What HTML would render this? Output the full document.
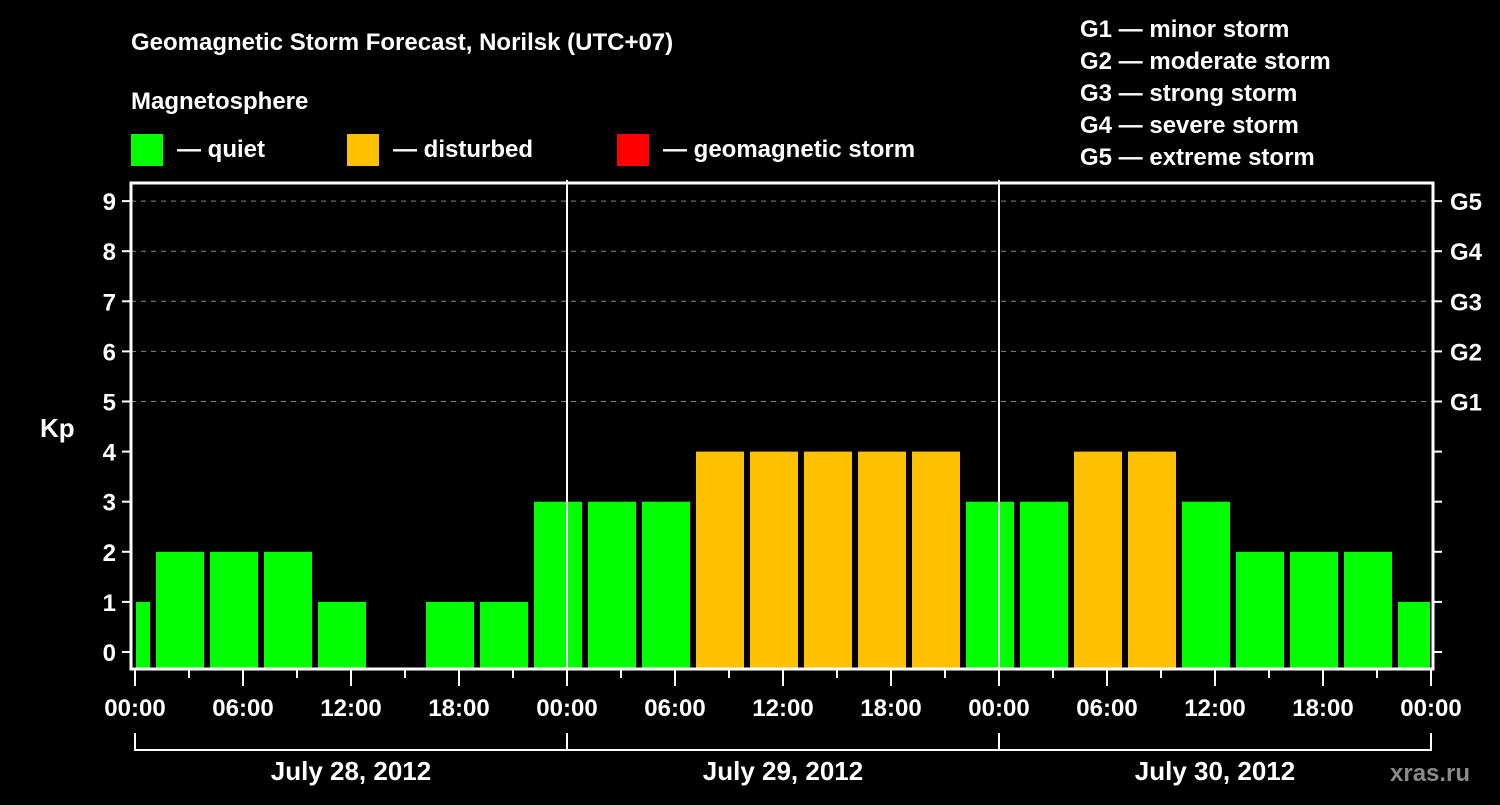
<!DOCTYPE html>
<html><head><meta charset="utf-8"><style>
body{margin:0;background:#000;width:1500px;height:800px;overflow:hidden}
svg text{font-family:"Liberation Sans",Arial,sans-serif;font-weight:bold;fill:#fff}
</style></head><body>
<svg id="chart" width="1500" height="800" xmlns="http://www.w3.org/2000/svg">
<rect width="1500" height="800" fill="#000"/>
<text x="131" y="50" font-size="24">Geomagnetic Storm Forecast, Norilsk (UTC+07)</text>
<text x="131" y="109" font-size="24">Magnetosphere</text>
<g><rect x="131" y="134" width="32" height="32" fill="#00ff00"/><text x="177" y="157" font-size="24">— quiet</text></g>
<g><rect x="347" y="134" width="32" height="32" fill="#ffc000"/><text x="393" y="157" font-size="24">— disturbed</text></g>
<g><rect x="617" y="134" width="32" height="32" fill="#ff0000"/><text x="663" y="157" font-size="24">— geomagnetic storm</text></g>
<g font-size="24">
<text x="1080" y="37">G1 — minor storm</text>
<text x="1080" y="69">G2 — moderate storm</text>
<text x="1080" y="101">G3 — strong storm</text>
<text x="1080" y="133">G4 — severe storm</text>
<text x="1080" y="165">G5 — extreme storm</text>
</g>
<text x="40" y="437" font-size="26">Kp</text>
<g id="grid"></g><g id="bars"></g><g id="axes"></g>
<text x="1390" y="781" font-size="24" fill="#888" style="fill:#8a8a8a">xras.ru</text>
</svg>
<script>
const startHours = [-2,1,4,7,10,13,16,19,22,25,28,31,34,37,40,43,46,49,52,55,58,61,64,67,70];
const kpValues = [1,2,2,2,1,0,1,1,3,3,3,4,4,4,4,4,3,3,4,4,3,2,2,2,1];
const dayLabels = ["July 28, 2012","July 29, 2012","July 30, 2012"];
const timeLabels = ["00:00","06:00","12:00","18:00"];
const gLabels = ["G1","G2","G3","G4","G5"];
const NS="http://www.w3.org/2000/svg";
const L=131,R=1433,T=183,B=669;
const x=h=>135+18*h;
const y=k=>652-50.1*k;
function mk(tag,attrs,parent){const e=document.createElementNS(NS,tag);for(const k in attrs)e.setAttribute(k,attrs[k]);parent.appendChild(e);return e;}
const grid=document.getElementById('grid'),bars=document.getElementById('bars'),axes=document.getElementById('axes');
for(let k=5;k<=9;k++){const l=mk('line',{x1:L,x2:R,y1:y(k),y2:y(k),stroke:'#888','stroke-dasharray':'5,5'},grid);

}
startHours.forEach((h,i)=>{const v=kpValues[i];if(v<=0)return;
const x0=Math.max(x(h)+3,L+5),x1=Math.min(x(h+3)-3,R-3);
const c=v>=5?'#ff0000':(v>=4?'#ffc000':'#00ff00');
const r=mk('rect',{x:x0,y:y(v),width:x1-x0,height:B-y(v),fill:c},bars);

});
for(let d=1;d<3;d++){const l=mk('line',{x1:x(24*d),x2:x(24*d),y1:T-3,y2:B,stroke:'#fff','stroke-width':2},axes);

}
const fr=mk('rect',{x:L,y:T,width:R-L,height:B-T,fill:'none',stroke:'#fff','stroke-width':3},axes);


for(let k=0;k<=9;k++){
mk('line',{x1:122,x2:L,y1:y(k),y2:y(k),stroke:'#fff','stroke-width':2},axes);
mk('line',{x1:R,x2:1442,y1:y(k),y2:y(k),stroke:'#fff','stroke-width':2},axes);
const t=mk('text',{x:116,y:y(k)+9,'font-size':24,'text-anchor':'end'},axes);t.textContent=k;

}
gLabels.forEach((g,i)=>{const t=mk('text',{x:1450,y:y(5+i)+9,'font-size':24},axes);t.textContent=g;

});
for(let h=0;h<=72;h+=3){const major=h%6===0;
mk('line',{x1:x(h),x2:x(h),y1:B,y2:major?686:678,stroke:'#fff','stroke-width':2},axes);
if(major){const t=mk('text',{x:x(h),y:716,'font-size':24,'text-anchor':'middle'},axes);t.textContent=timeLabels[(h/6)%4];

}}
mk('path',{d:`M${x(0)},733V750H${x(72)}V733M${x(24)},733V750M${x(48)},733V750`,stroke:'#fff','stroke-width':2,fill:'none'},axes);
dayLabels.forEach((d,i)=>{const t=mk('text',{x:x(24*i+12),y:780,'font-size':26,'text-anchor':'middle'},axes);t.textContent=d;

});
</script>
</body></html>
